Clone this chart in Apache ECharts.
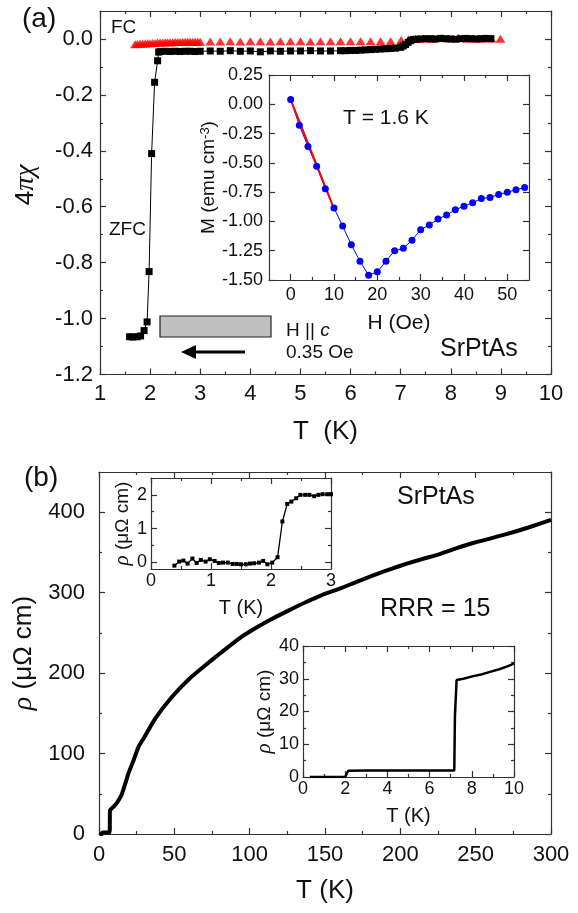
<!DOCTYPE html>
<html>
<head>
<meta charset="utf-8">
<script src="https://cdn.jsdelivr.net/npm/echarts@6/dist/echarts.min.js"></script>
<style>
  html, body { margin: 0; padding: 0; background: #fff; }
  #chart { width: 578px; height: 913px; }
</style>
</head>
<body>
<div id="chart"></div>
<script>
// ---- panel (a): susceptibility vs T ----
const fcT = [1.70, 1.75, 1.80, 1.85, 1.90, 1.95, 2.00, 2.05, 2.10, 2.15, 2.20, 2.25, 2.30, 2.35, 2.40, 2.45, 2.50, 2.55, 2.60, 2.65, 2.70, 2.75, 2.80, 2.85, 2.90, 2.95, 3.00,
  3.2, 3.4, 3.6, 3.8, 4.0, 4.2, 4.4, 4.6, 4.8, 5.0, 5.2, 5.4, 5.6, 5.8, 6.0, 6.2, 6.4, 6.6, 6.8,
  7.01, 7.16, 7.30, 7.45, 7.63, 7.82, 7.97, 8.15, 8.33, 8.48, 8.62, 8.81, 8.99]
const fcChi = [-0.019, -0.018, -0.017, -0.016, -0.016, -0.015, -0.015, -0.014, -0.014, -0.013, -0.013, -0.013, -0.012, -0.012, -0.012, -0.012, -0.011, -0.011, -0.011, -0.011, -0.010, -0.010, -0.010, -0.010, -0.010, -0.010, -0.010,
  -0.009, -0.009, -0.008, -0.009, -0.008, -0.008, -0.009, -0.008, -0.008, -0.008, -0.009, -0.008, -0.008, -0.008, -0.008, -0.008, -0.008, -0.008, -0.008,
  -0.004, -0.001, 0.001, 0.002, 0.000, 0.003, 0.002, 0.004, 0.001, 0.002, 0.001, 0.002, 0.001]

const zfcT = [1.59, 1.66, 1.74, 1.81, 1.88, 1.94, 1.98, 2.03, 2.09, 2.15, 2.17,
  2.2, 2.3, 2.4, 2.5, 2.6, 2.7, 2.8, 2.9, 3.0,
  3.2, 3.4, 3.6, 3.8, 4.0, 4.2, 4.4, 4.6, 4.8, 5.0, 5.2, 5.4, 5.6, 5.8,
  5.9, 6.0, 6.1, 6.2, 6.3, 6.4, 6.5, 6.6, 6.7, 6.8, 6.9, 7.0,
  7.05, 7.1, 7.15, 7.2, 7.25,
  7.3, 7.4, 7.5, 7.6, 7.7, 7.8, 7.9, 8.0, 8.1, 8.2, 8.3, 8.4, 8.5, 8.6, 8.7, 8.8]
const zfcChi = [-1.065, -1.066, -1.065, -1.062, -1.043, -1.012, -0.832, -0.41, -0.155, -0.078, -0.047,
  -0.045, -0.044, -0.045, -0.044, -0.045, -0.044, -0.044, -0.045, -0.044,
  -0.043, -0.044, -0.042, -0.044, -0.043, -0.046, -0.043, -0.044, -0.043, -0.043, -0.042, -0.043, -0.043, -0.042,
  -0.042, -0.041, -0.041, -0.040, -0.039, -0.038, -0.037, -0.036, -0.035, -0.034, -0.033, -0.030,
  -0.025, -0.020, -0.012, -0.006, -0.002,
  -0.001, 0.000, 0.001, 0.001, 0.000, 0.002, 0.001, 0.000, -0.001, 0.001, 0.002, 0.001, 0.000, 0.001, 0.002, 0.001]

// inset (a): M vs H at 1.6 K
const insetH = [0, 2, 4, 6, 8, 10, 12, 14, 16, 18, 20, 22, 24, 26, 28, 30, 32, 34, 36, 38, 40, 42, 44, 46, 48, 50, 52, 54]
const insetM = [0.04, -0.18, -0.36, -0.53, -0.72, -0.885, -1.04, -1.20, -1.34, -1.46, -1.43, -1.34, -1.25, -1.23, -1.16, -1.07, -1.03, -0.98, -0.945, -0.90, -0.87, -0.84, -0.805, -0.795, -0.77, -0.75, -0.73, -0.71]
const fitH = [0, 10]
const fitM = [0.04, -0.89]

// ---- panel (b): resistivity vs T ----
const rhoT = [0.4, 1.0, 2.0, 2.2, 4, 6, 7.1, 7.2, 7.3, 8, 10, 12, 15, 17, 19.6, 23, 26.3, 30, 37.4, 48.5,
  60, 70.8, 80, 93, 104, 115.3, 126, 137.5, 148, 159.8, 171, 182, 193, 204.3, 215, 226.6, 237, 248.8, 260, 271, 285, 300]
const rhoVal = [0, 0, 0, 2, 2, 2, 2, 18.6, 29.5, 31, 34.6, 39, 48.8, 60, 75.6, 92, 108.7, 120, 143.8, 170.7,
  193, 210, 224, 243, 256, 267.8, 278, 288.4, 297, 305, 313.5, 321.5, 329, 336, 342, 348.3, 355, 362, 367.5, 373, 381, 390.5]

// inset (b1): 0-3 K
const lowT = [0.39, 0.47, 0.54, 0.61, 0.69, 0.76, 0.83, 0.91, 0.98, 1.06, 1.13, 1.20, 1.28, 1.36, 1.43, 1.50, 1.58, 1.65, 1.72, 1.80, 1.87, 1.94, 2.02, 2.11, 2.19, 2.27, 2.34, 2.42, 2.49, 2.57, 2.64, 2.72, 2.79, 2.86, 2.94, 3.0]
const lowRho = [-0.10, 0.02, 0.05, -0.04, 0.11, -0.02, 0.07, 0.02, 0.09, 0.04, -0.02, -0.01, -0.01, -0.05, -0.05, -0.06, -0.06, -0.04, -0.03, -0.01, 0.04, -0.06, -0.01, 0.15, 1.21, 1.73, 1.80, 1.90, 2.0, 2.0, 2.0, 1.96, 2.0, 2.02, 2.02, 2.02]

// inset (b2): 0-10 K
const midT = [0.32, 0.6, 1.0, 1.4, 1.8, 2.0, 2.14, 2.2, 3, 4, 5, 6, 7, 7.17, 7.2, 7.28, 7.6, 8.07, 8.5, 8.86, 9.3, 9.65, 10]
const midRho = [0, 0, 0, 0, 0, 0, 1.9, 2.0, 2.0, 2.0, 2.0, 2.0, 2.0, 2.0, 18.6, 29.6, 30.0, 30.8, 31.4, 32.1, 32.9, 33.7, 34.6]

// ticks
const aXMajor = [1, 2, 3, 4, 5, 6, 7, 8, 9, 10]
const aXMinor = [1.5, 2.5, 3.5, 4.5, 5.5, 6.5, 7.5, 8.5, 9.5]
const aYMajor = [-1.2, -1.0, -0.8, -0.6, -0.4, -0.2, 0.0]
const aYMinor = [-1.1, -0.9, -0.7, -0.5, -0.3, -0.1]
const iaXMajor = [0, 10, 20, 30, 40, 50]
const iaXMinor = [5, 15, 25, 35, 45]
const iaYMajor = [-1.5, -1.25, -1.0, -0.75, -0.5, -0.25, 0, 0.25]
const bXMajor = [0, 50, 100, 150, 200, 250, 300]
const bXMinor = [25, 75, 125, 175, 225, 275]
const bYMajor = [0, 100, 200, 300, 400]
const bYMinor = [50, 150, 250, 350]
const b1XMajor = [0, 1, 2, 3]
const b1XMinor = [0.5, 1.5, 2.5]
const b1YMajor = [0, 1, 2]
const b1YMinor = [0.5, 1.5]
const b2XMajor = [0, 2, 4, 6, 8, 10]
const b2XMinor = [1, 3, 5, 7, 9]
const b2YMajor = [0, 10, 20, 30, 40]
const b2YMinor = [5, 15, 25, 35]

const FONT = '"Liberation Sans", Arial, sans-serif'
const SERIF = '"Liberation Serif", "DejaVu Serif", serif'
const AX = '#333'

const zip = (xs, ys) => xs.map((x, i) => [x, ys[i]])

const xAxes = []
const yAxes = []

// one frame side pair (bottom+top or left+right), each with a major and a minor tick axis
function frame(grid, dim, o) {
    const list = dim === 'x' ? xAxes : yAxes
    const sides = dim === 'x' ? ['bottom', 'top'] : ['left', 'right']
    const first = list.length
    sides.forEach((pos, k) => {
        const main = k === 0
        list.push({
            gridIndex: grid, type: 'value', position: pos, min: o.min, max: o.max,
            axisLine: { show: true, onZero: false, lineStyle: { color: AX, width: 1.2 } },
            axisTick: { show: true, inside: true, length: 6, customValues: o.major, lineStyle: { color: AX, width: 1.2 } },
            axisLabel: main ? {
                show: true, customValues: o.major, fontSize: o.fs, fontFamily: FONT, color: '#111',
                margin: o.margin, formatter: o.fmt || (v => String(v)),
            } : { show: false },
            splitLine: { show: false },
            name: main ? o.name : '',
            nameLocation: 'middle',
            nameGap: o.nameGap,
            nameTextStyle: {
                fontSize: o.nameFs, fontFamily: FONT, color: '#111',
                padding: o.namePad || 0,
                rich: {
                    i: { fontStyle: 'italic', fontFamily: SERIF, fontSize: o.nameFs + 2, color: '#111' },
                    sup: { fontSize: o.nameFs - 6, fontFamily: FONT, color: '#111', verticalAlign: 'top' },
                },
            },
        })
        if (o.minor) {
            list.push({
                gridIndex: grid, type: 'value', position: pos, min: o.min, max: o.max,
                axisLine: { show: false, onZero: false },
                axisTick: { show: true, inside: true, length: 3, customValues: o.minor, lineStyle: { color: AX, width: 1.2 } },
                axisLabel: { show: false },
                splitLine: { show: false },
            })
        }
    })
    return first
}

const grids = [
    { left: 100, top: 11, width: 451, height: 363.5 },   // a
    { left: 269, top: 75, width: 260, height: 205 },     // inset a
    { left: 99, top: 472, width: 452, height: 362 },     // b
    { left: 151, top: 478, width: 180, height: 91 },     // inset b1
    { left: 303, top: 646, width: 211, height: 131 },    // inset b2
]

const ax = {}
ax.aX = frame(0, 'x', { min: 1, max: 10, major: aXMajor, minor: aXMinor, fs: 22, margin: 8, name: 'T  (K)', nameGap: 44, nameFs: 26 })
ax.aY = frame(0, 'y', { min: -1.2, max: 0.1, major: aYMajor, minor: aYMinor, fs: 22, margin: 7, fmt: v => v.toFixed(1), name: '4{i|πχ}', nameGap: 60, nameFs: 26, namePad: [0, 0, 0, 16] })
ax.iaX = frame(1, 'x', { min: -5, max: 55, major: iaXMajor, minor: iaXMinor, fs: 18, margin: 6, name: 'H (Oe)', nameGap: 33, nameFs: 21 })
ax.iaY = frame(1, 'y', { min: -1.5, max: 0.25, major: iaYMajor, fs: 18, margin: 6, fmt: v => v.toFixed(2), name: 'M (emu cm{sup|-3})', nameGap: 48, nameFs: 19 })
ax.bX = frame(2, 'x', { min: 0, max: 300, major: bXMajor, minor: bXMinor, fs: 22, margin: 10, name: 'T (K)', nameGap: 44, nameFs: 26 })
ax.bY = frame(2, 'y', { min: 0, max: 450, major: bYMajor, minor: bYMinor, fs: 22, margin: 14, name: '{i|ρ} (μΩ cm)', nameGap: 56, nameFs: 26 })
ax.b1X = frame(3, 'x', { min: 0, max: 3, major: b1XMajor, minor: b1XMinor, fs: 18, margin: 3, name: 'T (K)', nameGap: 29, nameFs: 20 })
ax.b1Y = frame(3, 'y', { min: -0.2, max: 2.5, major: b1YMajor, minor: b1YMinor, fs: 18, margin: 4, name: '{i|ρ} (μΩ cm)', nameGap: 16, nameFs: 19 })
ax.b2X = frame(4, 'x', { min: 0, max: 10, major: b2XMajor, minor: b2XMinor, fs: 18, margin: 3, name: 'T (K)', nameGap: 29, nameFs: 20 })
ax.b2Y = frame(4, 'y', { min: 0, max: 40, major: b2YMajor, minor: b2YMinor, fs: 18, margin: 4, name: '{i|ρ} (μΩ cm)', nameGap: 25, nameFs: 19 })

const txt = (left, y, text, size, extra) => ({
    type: 'text', left, top: y - size * 0.6,
    style: Object.assign({ text, fontSize: size, fontFamily: FONT, fill: '#111' }, extra || {}),
})

const option = {
    animation: false,
    backgroundColor: '#fff',
    grid: grids,
    xAxis: xAxes,
    yAxis: yAxes,
    series: [
        {
            name: 'ZFC', type: 'line', xAxisIndex: ax.aX, yAxisIndex: ax.aY,
            data: zip(zfcT, zfcChi), symbol: 'rect', symbolSize: 7, showAllSymbol: true,
            itemStyle: { color: '#000' }, lineStyle: { color: '#000', width: 1 },
        },
        {
            name: 'FC', type: 'scatter', xAxisIndex: ax.aX, yAxisIndex: ax.aY,
            data: zip(fcT, fcChi), symbol: 'triangle', symbolSize: [10, 8],
            itemStyle: { color: '#ff0000' },
        },
        {
            name: 'M(H)', type: 'line', xAxisIndex: ax.iaX, yAxisIndex: ax.iaY,
            data: zip(insetH, insetM), symbol: 'circle', symbolSize: 7, showAllSymbol: true,
            itemStyle: { color: '#0000ff' }, lineStyle: { color: '#0000ff', width: 1 },
        },
        {
            name: 'fit', type: 'line', xAxisIndex: ax.iaX, yAxisIndex: ax.iaY,
            data: zip(fitH, fitM), symbol: 'none', lineStyle: { color: '#ff0000', width: 2 }, z: 3,
        },
        {
            name: 'rho', type: 'line', xAxisIndex: ax.bX, yAxisIndex: ax.bY,
            data: zip(rhoT, rhoVal), symbol: 'none', smooth: 0.2,
            lineStyle: { color: '#000', width: 4 },
        },
        {
            name: 'rho low', type: 'line', xAxisIndex: ax.b1X, yAxisIndex: ax.b1Y,
            data: zip(lowT, lowRho), symbol: 'rect', symbolSize: 4, showAllSymbol: true,
            itemStyle: { color: '#000' }, lineStyle: { color: '#000', width: 1.3 },
        },
        {
            name: 'rho mid', type: 'line', xAxisIndex: ax.b2X, yAxisIndex: ax.b2Y,
            data: zip(midT, midRho), symbol: 'none',
            lineStyle: { color: '#000', width: 2.5 },
        },
    ],
    graphic: [
        txt(22, 22, '(a)', 28),
        txt(111, 30, 'FC', 19),
        txt(109, 232, 'ZFC', 19),
        txt(343, 120, 'T = 1.6 K', 21),
        {
            type: 'text', left: 286, top: 321,
            style: {
                text: 'H || {i|c}', fontSize: 19, fontFamily: FONT, fill: '#111',
                rich: { i: { fontStyle: 'italic', fontFamily: FONT, fontSize: 19 } },
            },
        },
        txt(286, 355, '0.35 Oe', 19),
        txt(440, 352, 'SrPtAs', 25),
        {
            type: 'rect', shape: { x: 160, y: 316, width: 111, height: 21 },
            style: { fill: '#c0c0c0', stroke: '#222', lineWidth: 1.2 },
        },
        {
            type: 'line', shape: { x1: 192, y1: 352, x2: 245, y2: 352 },
            style: { stroke: '#000', lineWidth: 3 },
        },
        {
            type: 'polygon', shape: { points: [[181, 352], [196, 345], [196, 359]] },
            style: { fill: '#000' },
        },
        txt(24, 481, '(b)', 28),
        txt(397, 500, 'SrPtAs', 25),
        txt(380, 612, 'RRR = 15', 25),
    ],
}

const chart = echarts.init(document.getElementById('chart'))
chart.setOption(option)
</script>
</body>
</html>
